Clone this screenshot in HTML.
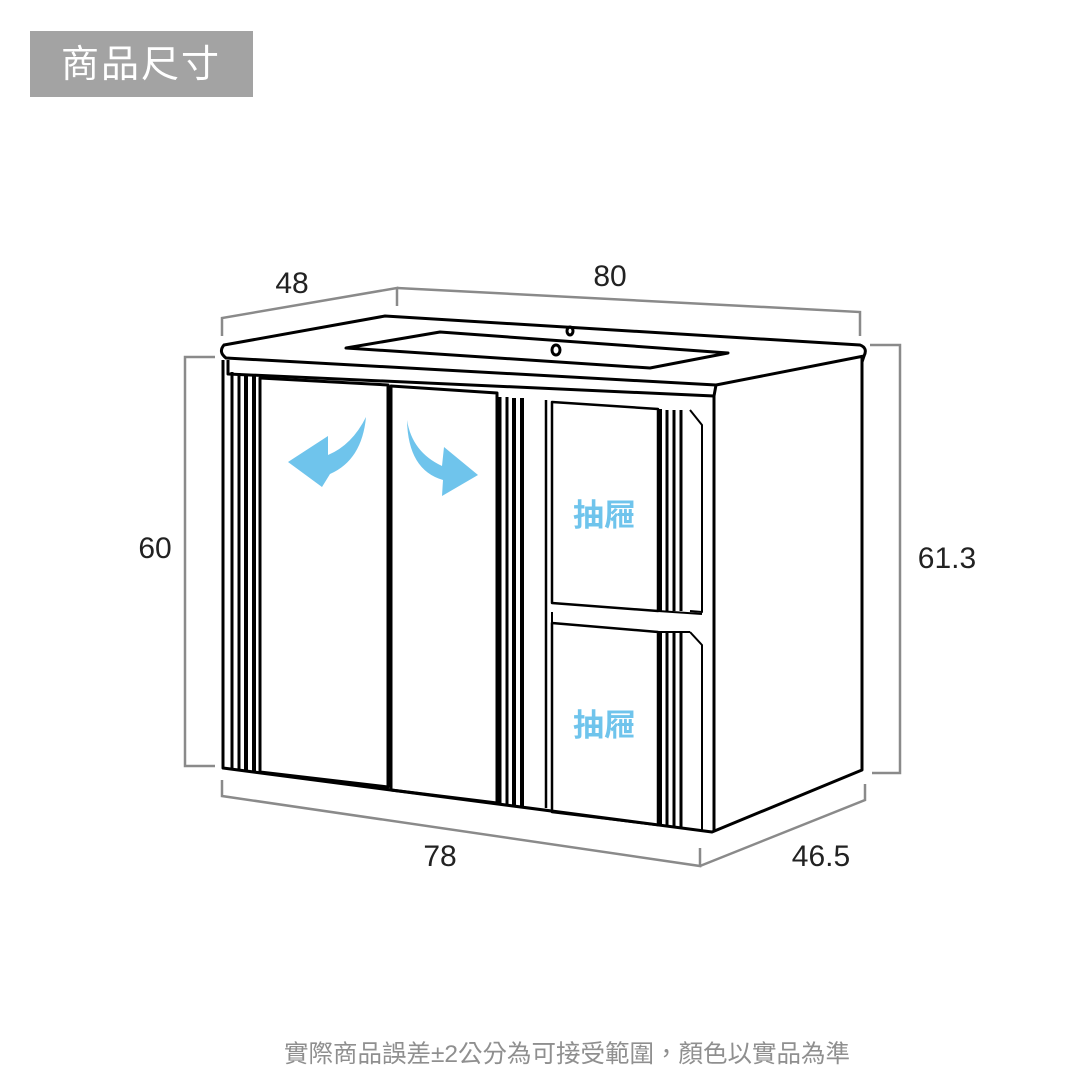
<!DOCTYPE html>
<html><head><meta charset="utf-8"><style>
html,body{margin:0;padding:0;background:#fff}
svg{display:block}
</style></head><body>
<svg width="1080" height="1080" viewBox="0 0 1080 1080" xmlns="http://www.w3.org/2000/svg">
<rect x="30" y="31" width="223" height="66" fill="#a3a3a3"/>
<text x="141" y="77" text-anchor="middle" font-family="'Liberation Sans','Noto Sans CJK TC',sans-serif" font-size="38" fill="#fff" letter-spacing="2">商品尺寸</text>

<g fill="none" stroke="#8a8a8a" stroke-width="2.5">
<polyline points="222,336 222,318 397,288 397,306"/>
<polyline points="397,288 860,312 860,336"/>
<polyline points="215,357 185,357 185,766 215,766"/>
<polyline points="870,345 900,345 900,773 872,773"/>
<polyline points="222,780 222,796 700,866 700,848"/>
<polyline points="700,866 865,800 865,784"/>
</g>
<g font-family="'Liberation Sans',sans-serif" font-size="30" fill="#222">
<text x="292" y="293" text-anchor="middle">48</text>
<text x="610" y="286" text-anchor="middle">80</text>
<text x="155" y="558" text-anchor="middle">60</text>
<text x="947" y="568" text-anchor="middle">61.3</text>
<text x="440" y="866" text-anchor="middle">78</text>
<text x="821" y="866" text-anchor="middle">46.5</text>
</g>

<g fill="none" stroke="#000" stroke-width="3" stroke-linejoin="round">
<path d="M224,345 L385,316 L860,345 Q868,348 864,356 L716,385 L226,358 Q218,352 224,345 Z"/>
<path d="M228,360 L228,374 L714,396 L716,385"/>
<path d="M864,356 L862,362"/>
<path d="M346,348 L440,332 L728,353 L650,368 Z"/>
<ellipse cx="570" cy="331" rx="3" ry="4"/>
<ellipse cx="556" cy="350" rx="4" ry="5"/>
<path d="M223,360 L223,768 L712,832 L862,770 L862,358"/>
<path d="M714,396 L714,832"/>
<path d="M260,378 L388,385 L388,787 L260,772 Z"/>
<path d="M391,386 L497,393 L497,803 L391,790 Z"/>
<path d="M552,402 L658,409 L658,611 L552,603 Z" stroke-width="2.5"/>
<path d="M552,623 L658,632 L658,825 L552,812 Z" stroke-width="2.5"/>
<path d="M690,410 L702,425 L702,612 L690,611" stroke-width="2"/>
<path d="M690,632 L702,645 L702,830" stroke-width="2"/>
<path d="M658,611 L702,614 M552,612 L552,622 M658,632 L690,632" stroke-width="2"/>
<path d="M546,400 L546,808" stroke-width="2.5"/>
</g>
<g stroke="#000">
<line x1="232" y1="372" x2="232" y2="770" stroke-width="3"/>
<line x1="239" y1="373" x2="239" y2="771" stroke-width="3"/>
<line x1="246" y1="374" x2="246" y2="772" stroke-width="4"/>
<line x1="254" y1="375" x2="254" y2="772" stroke-width="4"/>
<line x1="500" y1="397" x2="500" y2="804" stroke-width="3"/>
<line x1="507" y1="397" x2="507" y2="805" stroke-width="3"/>
<line x1="514" y1="398" x2="514" y2="806" stroke-width="4"/>
<line x1="522" y1="398" x2="522" y2="806" stroke-width="4"/>
<line x1="660" y1="409" x2="660" y2="611" stroke-width="4"/>
<line x1="667" y1="410" x2="667" y2="611" stroke-width="3"/>
<line x1="674" y1="410" x2="674" y2="611" stroke-width="3"/>
<line x1="681" y1="410" x2="681" y2="611" stroke-width="3"/>
<line x1="660" y1="632" x2="660" y2="826" stroke-width="4"/>
<line x1="667" y1="632" x2="667" y2="827" stroke-width="3"/>
<line x1="674" y1="632" x2="674" y2="828" stroke-width="3"/>
<line x1="681" y1="632" x2="681" y2="828" stroke-width="3"/>
</g>
<g fill="#6fc4ec">
<path d="M366,417 Q362,460 330,474 L322,487 L288,462 L328,436 L328,455 Q352,445 366,417 Z"/>
<path d="M407,420 Q412,452 442,466 L444,447 L478,475 L442,496 L443,480 Q408,470 407,420 Z"/>
</g>
<g font-family="'Liberation Sans','Noto Sans CJK TC',sans-serif" font-size="31" font-weight="bold" fill="#6fc4ec">
<text x="604" y="526" text-anchor="middle">抽屜</text>
<text x="604" y="736" text-anchor="middle">抽屜</text>
</g>
<text x="567" y="1062" text-anchor="middle" font-family="'Liberation Sans','Noto Sans CJK TC',sans-serif" font-size="24.5" fill="#8f8f8f">實際商品誤差±2公分為可接受範圍，顏色以實品為準</text>
</svg>
</body></html>
